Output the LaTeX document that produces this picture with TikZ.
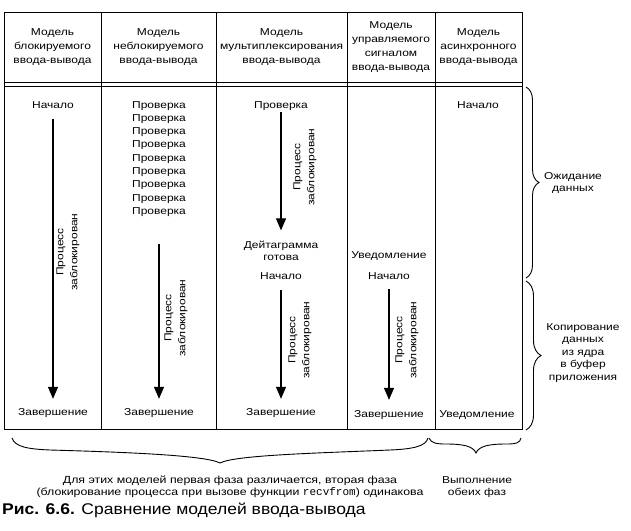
\documentclass[tikz,border=0pt]{standalone}
\usepackage{fontspec}
\setmainfont{Liberation Sans}[FakeStretch=1.2]
\newfontfamily\capfont{Liberation Sans}[FakeStretch=1.13]
\newfontfamily\codefont{Liberation Mono}
\usetikzlibrary{arrows.meta,decorations.pathreplacing}
\begin{document}
\begin{tikzpicture}[x=1pt,y=-1pt,
  txt/.style={inner sep=0pt, anchor=base, font=\fontsize{10}{13.3}\selectfont},
  hdr/.style={inner sep=0pt, align=center, font=\fontsize{10}{14}\selectfont},
  lbl/.style={inner sep=0pt, align=center, rotate=90, font=\fontsize{10}{14}\selectfont},
  side/.style={inner sep=0pt, align=center, font=\fontsize{10}{12.5}\selectfont},
  arr/.style={line width=1.2pt, -{Triangle[length=12pt,width=10pt]}},
  tab/.style={line width=1pt},
  brc/.style={decorate, decoration={brace, amplitude=#1}, line width=0.9pt},
  bline/.style={line width=0.9pt},
]
\useasboundingbox (0,0) rectangle (631,530);

% table
\draw[tab] (4,12) rectangle (522,429);
\draw[tab] (4,82) -- (522,82);
\draw[tab] (4,86) -- (522,86);
\foreach \xx in {101,216,347,435} \draw[tab] (\xx,12) -- (\xx,429);

% headers
\node[hdr] (h1) at (52.5,47) {Модель\\блокируемого\\ввода-вывода};
\node[hdr] (h2) at (158.5,47) {Модель\\неблокируемого\\ввода-вывода};
\node[hdr] (h3) at (281.5,47) {Модель\\мультиплексирования\\ввода-вывода};
\node[hdr] (h4) at (391,47) {Модель\\управляемого\\сигналом\\ввода-вывода};
\node[hdr] (h5) at (478.5,47) {Модель\\асинхронного\\ввода-вывода};

% column 1
\node[txt] (s1) at (53,108) {Начало};
\node[txt] (e1) at (53,415) {Завершение};
\draw[arr, shorten <=11pt, shorten >=9pt] (s1.south) -- (e1.north);
\node[lbl] (l1) at (68,252) {Процесс\\заблокирован};

% column 2
\foreach \i in {1,...,9}
  \node[txt] (p\i) at (159,{108+(\i-1)*13.3}) {Проверка};
\node[txt] (e2) at (159,415) {Завершение};
\draw[arr, shorten <=27pt, shorten >=9pt] (p9.south) -- (e2.north);
\node[lbl] (l2) at (176,318) {Процесс\\заблокирован};

% column 3
\node[txt] (q3) at (281,108) {Проверка};
\node[txt] (d3a) at (281,248) {Дейтаграмма};
\node[txt] (d3b) at (281,260) {готова};
\draw[arr, shorten <=2pt, shorten >=10pt] (q3.south) -- (d3a.north);
\node[lbl] (l3a) at (305,167) {Процесс\\заблокирован};
\node[txt] (s3) at (281,279) {Начало};
\node[txt] (e3) at (281,415) {Завершение};
\draw[arr, shorten <=11pt, shorten >=9pt] (s3.south) -- (e3.north);
\node[lbl] (l3b) at (300,340) {Процесс\\заблокирован};

% column 4
\node[txt] (u4) at (389,258) {Уведомление};
\node[txt] (s4) at (389,279) {Начало};
\node[txt] (e4) at (389,417) {Завершение};
\draw[arr, shorten <=10pt, shorten >=10pt] (s4.south) -- (e4.north);
\node[lbl] (l4) at (407,340) {Процесс\\заблокирован};

% column 5
\node[txt] (s5) at (478,108) {Начало};
\node[txt] (u5) at (477,417) {Уведомление};

% right braces
\draw[brc=13] (526,87) -- (526,278);
\draw[brc=15] (526,281) -- (526,430);
\node[side] (w) at (573,183) {Ожидание\\данных};
\node[side] (c) at (583,353) {Копирование\\данных\\из ядра\\в буфер\\приложения};

% bottom braces
\draw[bline] (12,438) .. controls (15,447) and (28,449) .. (50,450)
  .. controls (120,452) and (205,455) .. (220,463)
  .. controls (235,455) and (320,453) .. (390,450)
  .. controls (414,449) and (426,446) .. (428,438);
\draw[bline] (429,438) .. controls (431,443) and (436,444) .. (446,444)
  .. controls (463,444) and (473,446) .. (476,453)
  .. controls (479,446) and (489,444) .. (506,444)
  .. controls (516,444) and (520,443) .. (521,438);
\node[side, font=\fontsize{10.3}{12}\selectfont] (b1) at (230,487)
  {Для этих моделей первая фаза различается, вторая фаза\\(блокирование процесса при вызове функции {\codefont\fontsize{11}{12}\selectfont recvfrom}) одинакова};
\node[side, font=\fontsize{10}{12}\selectfont] (b2) at (477,487) {Выполнение\\обеих фаз};

% caption
\node[inner sep=0pt, anchor=base west, font=\capfont\fontsize{15.5}{18}\selectfont] (cap) at (2,514)
  {\textbf{Рис. 6.6.} Сравнение моделей ввода-вывода};
\end{tikzpicture}
\end{document}
